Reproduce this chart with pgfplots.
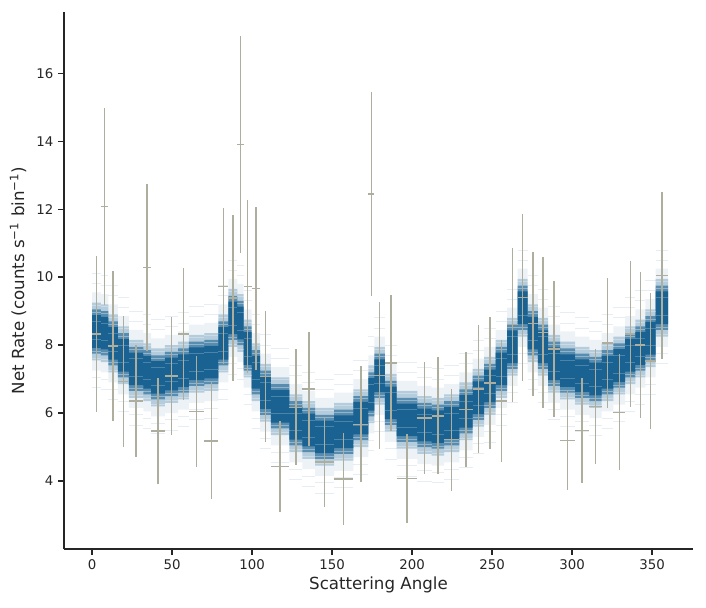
\documentclass[border=0pt]{standalone}
\usepackage{fontspec}
\setmainfont{DejaVu Sans}
\usepackage{pgfplots}
\pgfplotsset{compat=1.18}
\usepgfplotslibrary{fillbetween}
\usepackage{pgfplotstable}
\definecolor{band}{RGB}{14,90,140}
\definecolor{errc}{RGB}{174,174,158}
\definecolor{axc}{RGB}{38,38,38}

\pgfplotstableread{
e m
0 8.4
5.6 8.35
10.2 8.05
16.1 7.7
23.1 7.3
32.1 7.2
36.9 7.05
45.6 7.15
53.9 7.25
60.6 7.45
70.3 7.5
78.9 8.05
85.2 8.8
90.8 8.65
94.8 7.9
99.8 7.2
105 6.6
111.8 6.2
123.4 5.7
131.5 5.5
139.4 5.3
151.3 5.45
163.3 5.85
172.7 6.55
176.4 7.1
183.1 6.3
190.4 5.8
203.3 5.65
212.3 5.6
220 5.7
229.6 6.05
237.9 6.45
245.1 6.8
252.2 7.3
259.4 7.95
266 9.1
272.2 8.35
278.7 7.95
285.1 7.45
292.5 7.25
301.9 7.1
310.8 7.0
318.5 7.2
325.9 7.4
333.2 7.7
339.6 7.9
345.8 8.2
352.3 9.1
360 9.1
}\band

\pgfplotstableread{
x y xe ye
2.8 8.33 2.8 2.3
7.9 12.08 2.3 2.9
13.15 7.98 2.95 2.2
19.6 6.93 3.5 1.93
27.6 6.36 4.5 1.64
34.5 10.28 2.4 2.46
41.25 5.47 4.35 1.56
49.75 7.09 4.15 1.75
57.25 8.32 3.35 1.95
65.45 6.04 4.85 1.63
74.6 5.18 4.3 1.72
82.05 9.73 3.15 2.3
88.0 9.38 2.8 2.45
92.8 13.9 2.0 3.2
97.3 9.73 2.5 2.55
102.4 9.67 2.6 2.4
108.4 7.07 3.4 1.92
117.6 4.43 5.8 1.35
127.45 6.17 4.05 1.71
135.45 6.70 3.95 1.68
145.35 4.56 5.95 1.32
157.3 4.06 6.0 1.34
168.0 5.67 4.7 1.7
174.55 12.45 1.85 3.0
179.75 7.1 3.35 2.17
186.75 7.47 3.65 2.01
196.85 4.07 6.45 1.31
207.8 5.85 4.5 1.65
216.15 5.92 3.85 1.72
224.8 5.22 4.8 1.5
233.75 6.1 4.15 1.69
241.5 6.7 3.6 1.88
248.65 6.88 3.55 1.94
255.8 6.36 3.6 1.8
262.7 8.6 3.3 2.27
269.1 9.4 3.1 2.45
275.45 8.63 3.25 2.12
281.9 8.37 3.2 2.23
288.8 7.89 3.7 2.0
297.2 5.19 4.7 1.45
306.35 5.49 4.45 1.55
314.65 6.19 3.85 1.69
322.2 8.06 3.7 1.92
329.55 6.02 3.65 1.71
336.4 8.32 3.2 2.15
342.7 8.0 3.1 2.14
349.05 7.53 3.25 2.0
356.15 10.05 3.85 2.45
}\obs

\begin{document}
\begin{tikzpicture}
\begin{axis}[
  scale only axis, width=471.75pt, height=402.75pt,
  xmin=-17.5, xmax=375.6, ymin=2.0, ymax=17.8,
  axis x line*=bottom, axis y line*=left,
  axis line style={axc, line width=0.9pt, -},
  xtick={0,50,...,350}, ytick={4,6,...,16},
  tick style={axc, line width=0.9pt},
  tick align=outside, major tick length=4.5pt,
  tick label style={font=\fontsize{10}{12}\selectfont, color=axc},
  /pgf/number format/assume math mode=true,
  xlabel={Scattering Angle},
  ylabel={Net Rate (counts s\textsuperscript{−1} bin\textsuperscript{−1})},
  label style={font=\fontsize{12.5}{14}\selectfont, color=axc},
  xlabel style={at={(axis description cs:0.5,-0.067)}, anchor=center},
  ylabel style={at={(axis description cs:-0.0731,0.5)}, anchor=center},
]
\addplot[const plot mark left, draw=none, name path=a1] table[x=e, y expr=\thisrow{m}+1.15] {\band};
\addplot[const plot mark left, draw=none, name path=b1] table[x=e, y expr=\thisrow{m}-1.15] {\band};
\addplot[const plot mark left, draw=none, name path=a2] table[x=e, y expr=\thisrow{m}+0.85] {\band};
\addplot[const plot mark left, draw=none, name path=b2] table[x=e, y expr=\thisrow{m}-0.85] {\band};
\addplot[const plot mark left, draw=none, name path=a3] table[x=e, y expr=\thisrow{m}+0.65] {\band};
\addplot[const plot mark left, draw=none, name path=b3] table[x=e, y expr=\thisrow{m}-0.65] {\band};
\addplot[const plot mark left, draw=none, name path=a4] table[x=e, y expr=\thisrow{m}+0.48] {\band};
\addplot[const plot mark left, draw=none, name path=b4] table[x=e, y expr=\thisrow{m}-0.48] {\band};
\addplot[band, fill opacity=0.08, draw=none] fill between[of=a1 and b1];
\addplot[band, fill opacity=0.25, draw=none] fill between[of=a2 and b2];
\addplot[band, fill opacity=0.55, draw=none] fill between[of=a3 and b3];
\addplot[band, fill opacity=0.85, draw=none] fill between[of=a4 and b4];
% stray draws and streaks (horizontal segments only)
\addplot[jump mark left, band, opacity=0.10, line width=0.6pt] table[x=e, y expr=\thisrow{m}+1.4] {\band};
\addplot[jump mark left, band, opacity=0.10, line width=0.6pt] table[x=e, y expr=\thisrow{m}+1.7] {\band};
\addplot[jump mark left, band, opacity=0.10, line width=0.6pt] table[x=e, y expr=\thisrow{m}-1.35] {\band};
\addplot[jump mark left, band, opacity=0.10, line width=0.6pt] table[x=e, y expr=\thisrow{m}-1.65] {\band};
\addplot[jump mark left, white, opacity=0.35, line width=0.5pt] table[x=e, y expr=\thisrow{m}+0.57] {\band};
\addplot[jump mark left, white, opacity=0.22, line width=0.5pt] table[x=e, y expr=\thisrow{m}+0.3] {\band};
\addplot[jump mark left, white, opacity=0.22, line width=0.5pt] table[x=e, y expr=\thisrow{m}-0.22] {\band};
\addplot[jump mark left, white, opacity=0.35, line width=0.5pt] table[x=e, y expr=\thisrow{m}-0.57] {\band};
\addplot[jump mark left, white, opacity=0.3, line width=0.5pt] table[x=e, y expr=\thisrow{m}+0.78] {\band};
\addplot[jump mark left, white, opacity=0.3, line width=0.5pt] table[x=e, y expr=\thisrow{m}-0.78] {\band};
\addplot[draw=none, mark=none,
  error bars/.cd, x dir=both, x explicit, y dir=both, y explicit,
  error mark=none, error bar style={draw=errc, line width=1.15pt}]
  table[x=x, y=y, x error=xe, y error=ye] {\obs};
\end{axis}
\path (-48pt,-43.5pt) rectangle (481.5pt,411.75pt);
\end{tikzpicture}
\end{document}
